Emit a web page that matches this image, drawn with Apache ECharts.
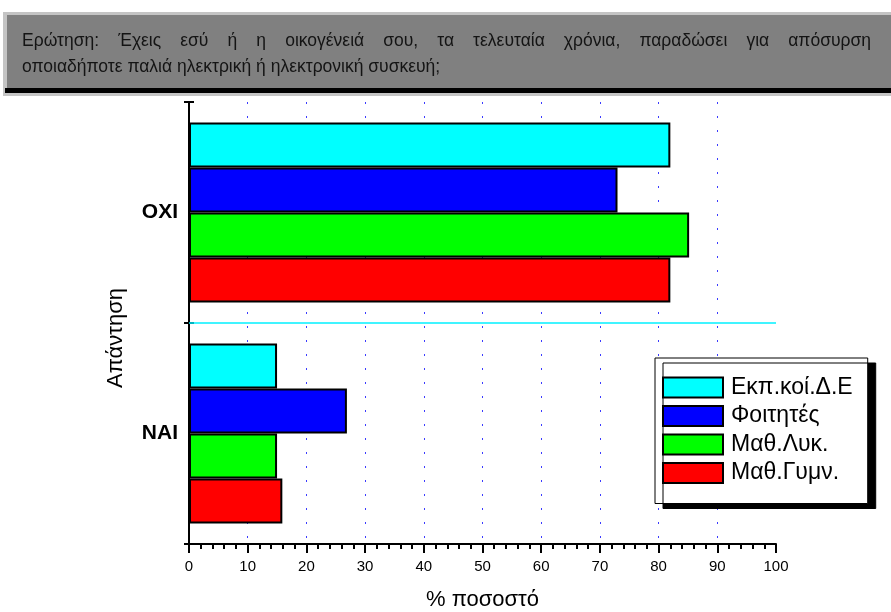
<!DOCTYPE html>
<html>
<head>
<meta charset="utf-8">
<script src="https://cdn.jsdelivr.net/npm/echarts@6/dist/echarts.min.js"></script>
<style>
  html, body { margin: 0; padding: 0; background: #ffffff; }
  #chart { width: 891px; height: 612px; }
</style>
</head>
<body>
<div id="chart"></div>
<script>
// Answer categories (bottom to top on the vertical axis)
const categories = ['NAI', 'OXI'];

// Percentage of respondents per group, in the order of `categories`
const seriesNames = ['Εκπ.κοί.Δ.Ε', 'Φοιτητές', 'Μαθ.Λυκ.', 'Μαθ.Γυμν.'];
const teachersValues = [15, 82];      // Εκπ.κοί.Δ.Ε
const studentsValues = [26.9, 73];    // Φοιτητές
const lyceumValues = [15, 85.2];      // Μαθ.Λυκ.
const gymnasiumValues = [15.9, 82];   // Μαθ.Γυμν.

const seriesColors = ['#00ffff', '#0000ff', '#00ff00', '#ff0000'];

const questionLines = [
  'Ερώτηση: Έχεις εσύ ή η οικογένειά σου, τα τελευταία χρόνια, παραδώσει για απόσυρση',
  'οποιαδήποτε παλιά ηλεκτρική ή ηλεκτρονική συσκευή;'
];

const xAxisTitle = '% ποσοστό';
const yAxisTitle = 'Απάντηση';

const FONT = 'Arial, "Liberation Sans", sans-serif';
const TITLE_FONT = '17.5px ' + FONT;

const valueSets = [teachersValues, studentsValues, lyceumValues, gymnasiumValues];

const series = valueSets.map(function (values, i) {
  return {
    name: seriesNames[i],
    type: 'bar',
    data: values,
    barGap: '0%',
    barCategoryGap: '18.6%',
    itemStyle: { color: seriesColors[i], borderColor: '#000000', borderWidth: 2 },
    emphasis: { disabled: true }
  };
});

// divider between the NAI and OXI bands, placed on the helper band scale
series.push({
  name: 'divider',
  type: 'line',
  yAxisIndex: 2,
  data: [],
  silent: true,
  z: 20,
  markLine: {
    silent: true,
    symbol: ['none', 'none'],
    label: { show: false },
    animation: false,
    lineStyle: { color: '#00f0ff', type: 'solid', width: 1.5, opacity: 1 },
    emphasis: { disabled: true },
    data: [{ yAxis: 1 }]
  }
});

// The first banner line is justified across the panel: words are laid out
// with the spare width shared evenly between the gaps.
const measureCtx = document.createElement('canvas').getContext('2d');
measureCtx.font = TITLE_FONT;
function justifiedWords(line, x0, x1, y) {
  const words = line.split(' ');
  const widths = words.map(function (w) { return measureCtx.measureText(w).width; });
  const total = widths.reduce(function (a, b) { return a + b; }, 0);
  const gap = (x1 - x0 - total) / (words.length - 1);
  let x = x0;
  return words.map(function (w, i) {
    const el = {
      type: 'text', x: x, y: y, z: 4,
      style: { text: w, font: TITLE_FONT, fill: '#141414', verticalAlign: 'middle' }
    };
    x += widths[i] + gap;
    return el;
  });
}

const bannerGraphics = [
  // question banner: light frame, grey panel, dark drop edge
  { type: 'rect', shape: { x: 3, y: 12, width: 888, height: 84 }, style: { fill: '#c4c4c4' }, z: 1 },
  { type: 'rect', shape: { x: 7, y: 15, width: 884, height: 73 }, style: { fill: '#808080' }, z: 2 },
  { type: 'rect', shape: { x: 5, y: 88, width: 886, height: 5 }, style: { fill: '#000000' }, z: 3 }
].concat(justifiedWords(questionLines[0], 22, 871, 41)).concat([
  {
    type: 'text', x: 22, y: 67, z: 4,
    style: { text: questionLines[1], font: TITLE_FONT, fill: '#141414', verticalAlign: 'middle' }
  }
]);

const chart = echarts.init(document.getElementById('chart'), null, { renderer: 'canvas' });

chart.setOption({
  animation: false,
  backgroundColor: '#ffffff',
  grid: { left: 189, right: 115, top: 102, bottom: 68, containLabel: false, outerBoundsMode: 'none' },
  graphic: bannerGraphics,
  legend: {
    orient: 'vertical',
    left: 655,
    top: 358,
    padding: [18, 15, 19, 7],
    itemWidth: 60,
    itemHeight: 20,
    itemGap: 5.5,
    icon: 'rect',
    data: seriesNames,
    backgroundColor: '#ffffff',
    borderColor: '#000000',
    borderWidth: 1,
    shadowColor: '#000000',
    shadowBlur: 0,
    shadowOffsetX: 8,
    shadowOffsetY: 5,
    selectedMode: false,
    textStyle: { fontFamily: FONT, fontSize: 23, lineHeight: 20, color: '#000000', padding: [0, 0, 0, 3] }
  },
  xAxis: {
    type: 'value',
    min: 0,
    max: 100,
    interval: 10,
    name: xAxisTitle,
    nameLocation: 'middle',
    nameGap: 45,
    nameTextStyle: { fontFamily: FONT, fontSize: 22, color: '#000000' },
    axisLine: { show: true, onZero: false, lineStyle: { color: '#000000', width: 2 } },
    axisTick: { show: true, length: 9, lineStyle: { color: '#000000', width: 2 } },
    minorTick: { show: true, splitNumber: 5, length: 5, lineStyle: { color: '#000000', width: 2 } },
    axisLabel: { fontFamily: FONT, fontSize: 15, color: '#000000', margin: 15 },
    splitLine: {
      show: true,
      showMinLine: false,
      showMaxLine: false,
      lineStyle: { color: '#3a3aff', width: 1, type: [2, 12] }
    }
  },
  yAxis: [
    {
      type: 'category',
      data: categories,
      name: yAxisTitle,
      nameLocation: 'middle',
      nameGap: 62,
      nameRotate: 90,
      nameTextStyle: { fontFamily: FONT, fontSize: 22, color: '#000000', padding: [0, 30, 0, 0] },
      axisLine: { show: true, onZero: false, lineStyle: { color: '#000000', width: 2 } },
      axisTick: { show: true, length: 5, lineStyle: { color: '#000000', width: 2 } },
      axisLabel: { fontFamily: FONT, fontSize: 21, fontWeight: 'bold', color: '#000000', margin: 11 },
      splitLine: { show: false }
    },
    {
      // inner half of the boundary ticks
      type: 'category',
      data: categories,
      position: 'left',
      axisLine: { show: false, onZero: false },
      axisTick: { show: true, inside: true, length: 5, lineStyle: { color: '#000000', width: 2 } },
      axisLabel: { show: false },
      splitLine: { show: false }
    },
    {
      // helper scale over the two answer bands
      type: 'value',
      min: 0,
      max: 2,
      interval: 1,
      position: 'right',
      axisLine: { show: false, onZero: false },
      axisTick: { show: false },
      axisLabel: { show: false },
      splitLine: { show: false }
    }
  ],
  series: series
});
</script>
</body>
</html>
